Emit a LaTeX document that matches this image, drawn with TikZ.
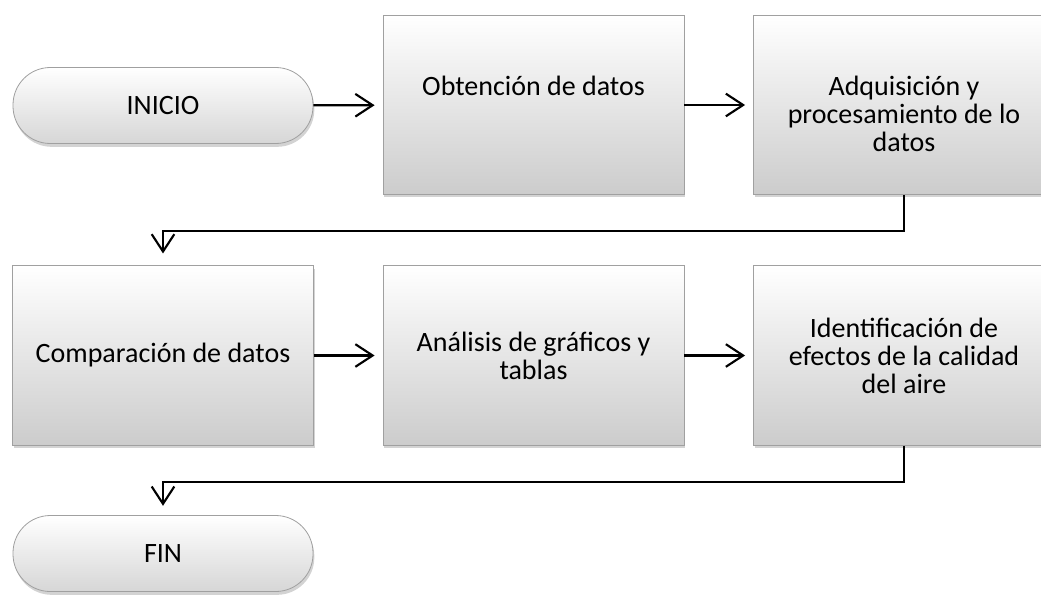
\documentclass[tikz,border=0pt]{standalone}
\definecolor{grisfondo}{RGB}{204,204,204}
\definecolor{grismedio}{RGB}{238,238,238}
\definecolor{grisborde}{RGB}{160,160,160}
\usepackage{fontspec}
\setmainfont{Carlito}
\usepackage{tikz}
\usetikzlibrary{arrows.meta,shadows}
\tikzset{
  caja/.style={rectangle, draw=grisborde, line width=0.6pt,
    top color=white, middle color=grismedio, bottom color=grisfondo,
    minimum width=225.75pt, minimum height=134.5pt, align=center,
    font=\fontsize{21}{21}\selectfont,
    drop shadow={opacity=0.35, shadow xshift=1pt, shadow yshift=-2pt}},
  terminal/.style={rectangle, rounded corners=28pt, draw=grisborde, line width=0.6pt,
    top color=white, bottom color=grisfondo!80,
    minimum width=225pt, minimum height=57pt,
    font=\fontsize{21}{21}\selectfont,
    drop shadow={opacity=0.35, shadow xshift=1pt, shadow yshift=-2.5pt}},
  texto/.style={anchor=north, align=center, font=\fontsize{21}{21}\selectfont},
  flecha/.style={line width=1.6pt, -{Straight Barb[length=13pt, width=17pt, line width=1.6pt]}}
}

\begin{document}
\begin{tikzpicture}[x=0.75pt, y=-0.75pt]
  \useasboundingbox (0,0) rectangle (1041,600);

  % Primera fila
  \node[terminal] (ini) at (163,105.5) {INICIO};
  \node[caja] (obt) at (533.5,105) {};
  \node[caja] (adq) at (904,105) {};
  \node[texto] (tobt) at (533.5,71) {Obtención de datos};
  \node[texto] (tadq) at (904,71) {Adquisición y\\procesamiento de lo\\datos};

  % Segunda fila
  \node[caja] (comp) at (163,355.5) {Comparación de datos};
  \node[caja] (anal) at (533.5,355.5) {Análisis de gráficos y\\tablas};
  \node[caja] (ident) at (904,355.5) {Identificación de\\efectos de la calidad\\del aire};

  % Fin
  \node[terminal] (fin) at (163,553.5) {FIN};

  % Conectores
  \foreach \a/\b in {ini/obt, obt/adq, comp/anal, anal/ident} {
    \draw[flecha, shorten >=6pt] (\a) -- (\b);
  }
  \draw[flecha, shorten >=9pt] (adq.south) -- ++(0,36) -| (comp.north);
  \draw[flecha, shorten >=7pt] (ident.south) -- ++(0,36) -| (fin.north);
\end{tikzpicture}
\end{document}
